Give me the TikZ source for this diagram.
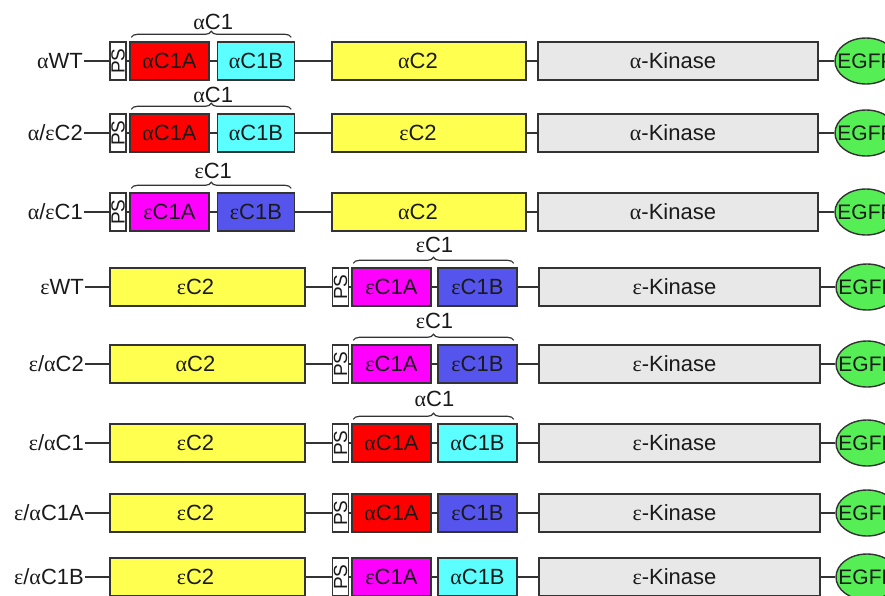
\documentclass[tikz,border=0pt]{standalone}
\usepackage{fontspec}
\setmainfont{Liberation Sans}
\newfontfamily\grk{Liberation Serif}
\usetikzlibrary{shapes.geometric,decorations.pathreplacing,calc}
\newcommand\gal{{\grk α}}
\newcommand\gep{{\grk ε}}
\newcommand\fs{\fontsize{22}{24}\selectfont}
\definecolor{bdr}{HTML}{333333}
\definecolor{cred}{HTML}{FF0000}
\definecolor{ccyan}{HTML}{5CFFFF}
\definecolor{cmag}{HTML}{FF00FF}
\definecolor{cblue}{HTML}{5555EE}
\definecolor{cyel}{HTML}{FFFF50}
\definecolor{ckin}{HTML}{E8E8E8}
\definecolor{cgfp}{HTML}{55EE55}
\definecolor{ctxt}{HTML}{1A1A1A}
\tikzset{
  box/.style={draw=bdr, line width=1.4pt, minimum height=38pt, inner sep=0pt, font=\fs, text=ctxt, text depth=0pt},
  psbox/.style={draw=bdr, line width=1.4pt, minimum height=38pt, inner sep=0pt, minimum width=16pt, fill=white, text=ctxt},
  conn/.style={draw=bdr, line width=1.4pt},
  lbl/.style={anchor=east, inner sep=1pt, font=\fs, text=ctxt},
  egfp/.style={ellipse, draw=bdr, line width=1.4pt, fill=cgfp, minimum width=62pt, minimum height=46pt, inner sep=0pt, font=\fontsize{21}{23}\selectfont, text=ctxt},
  brc/.style={draw=bdr, line width=1.2pt, decorate, decoration={brace, amplitude=6pt}},
  brlbl/.style={font=\fs, text=ctxt, inner sep=0pt}
}
% type A rows: PS + C1 first, then C2, alpha kinase
\newcommand\rowA[8]{%
  \node[lbl] (l#1) at (84,#2) {#3};
  \node[psbox] (p#1) at (118,#2) {\rotatebox{90}{\fontsize{19}{20}\selectfont PS}};
  \node[box, fill=#4, minimum width=79pt] (a#1) at (169.5,#2) {#5};
  \node[box, fill=#6, minimum width=77pt] (b#1) at (256,#2) {#7};
  \node[box, fill=cyel, minimum width=194pt] (c#1) at (429,#2) {\kern-22pt #8};
  \node[box, fill=ckin, minimum width=280pt] (k#1) at (678,#2) {\kern-10pt\gal-Kinase};
  \node[egfp] (e#1) at (866,#2) {\makebox[0pt]{EGFP}};
  \draw[conn] (l#1) -- (p#1);
  \draw[conn] (p#1) -- (a#1);
  \draw[conn] (a#1) -- (b#1);
  \draw[conn] (b#1) -- (c#1);
  \draw[conn] (c#1) -- (k#1);
  \draw[conn] (k#1) -- (e#1);
}
% type B rows: C2 first, then PS + C1, epsilon kinase
\newcommand\rowB[8]{%
  \node[lbl] (l#1) at (85,#2) {#3};
  \node[box, fill=cyel, minimum width=195pt] (c#1) at (207.5,#2) {\kern-24pt #8};
  \node[psbox] (p#1) at (340.5,#2) {\rotatebox{90}{\fontsize{19}{20}\selectfont PS}};
  \node[box, fill=#4, minimum width=79pt] (a#1) at (391.5,#2) {#5};
  \node[box, fill=#6, minimum width=79pt] (b#1) at (477.5,#2) {#7};
  \node[box, fill=ckin, minimum width=281pt] (k#1) at (679.5,#2) {\kern-10pt\gep-Kinase};
  \node[egfp] (e#1) at (867,#2) {\makebox[0pt]{EGFP}};
  \draw[conn] (l#1) -- (c#1);
  \draw[conn] (c#1) -- (p#1);
  \draw[conn] (p#1) -- (a#1);
  \draw[conn] (a#1) -- (b#1);
  \draw[conn] (b#1) -- (k#1);
  \draw[conn] (k#1) -- (e#1);
}
\newcommand\brcC[3]{%
  \draw[brc] ([xshift=2pt,yshift=4pt]a#1.north west) -- ([xshift=-4pt,yshift=4pt]b#1.north east);
  \node[brlbl, yshift=#3] (t#1) at ($(a#1.north east)!0.5!(b#1.north west)$) {#2};
}
\begin{document}
\begin{tikzpicture}[x=1pt,y=-1pt]
\useasboundingbox (0,0) rectangle (885,595);
\rowA{1}{61}{\gal WT}{cred}{\gal C1A}{ccyan}{\gal C1B}{\gal C2}
\rowA{2}{133}{\gal/\gep C2}{cred}{\gal C1A}{ccyan}{\gal C1B}{\gep C2}
\rowA{3}{212}{\gal/\gep C1}{cmag}{\gep C1A}{cblue}{\gep C1B}{\gal C2}
\rowB{4}{287}{\gep WT}{cmag}{\gep C1A}{cblue}{\gep C1B}{\gep C2}
\rowB{5}{364}{\gep/\gal C2}{cmag}{\gep C1A}{cblue}{\gep C1B}{\gal C2}
\rowB{6}{443}{\gep/\gal C1}{cred}{\gal C1A}{ccyan}{\gal C1B}{\gep C2}
\rowB{7}{513}{\gep/\gal C1A}{cred}{\gal C1A}{cblue}{\gep C1B}{\gep C2}
\rowB{8}{577}{\gep/\gal C1B}{cmag}{\gep C1A}{ccyan}{\gal C1B}{\gep C2}
\brcC{1}{\gal C1}{19pt}
\brcC{2}{\gal C1}{18pt}
\brcC{3}{\gep C1}{21pt}
\brcC{4}{\gep C1}{22pt}
\brcC{5}{\gep C1}{23pt}
\brcC{6}{\gal C1}{24pt}
\end{tikzpicture}
\end{document}
